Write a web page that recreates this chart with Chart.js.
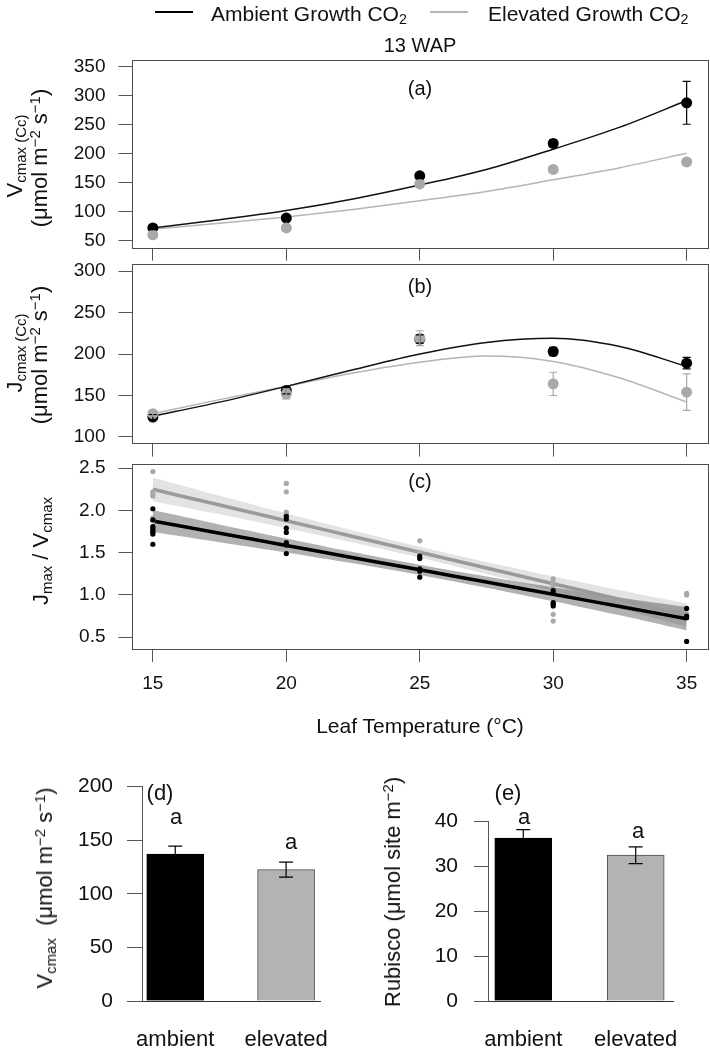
<!DOCTYPE html>
<html><head><meta charset="utf-8">
<script src="https://cdn.jsdelivr.net/npm/chart.js@4.4.1/dist/chart.umd.min.js"></script>
<style>
body{margin:0;background:#fff;}
#wrap{position:relative;width:710px;height:1051px;overflow:hidden;font-family:"Liberation Sans",Arial,sans-serif;color:#111;background:#fff;}
canvas{position:absolute;}
.t{position:absolute;white-space:nowrap;line-height:1;transform:translate(-50%,-50%);}
.l{position:absolute;white-space:nowrap;line-height:1;transform:translateY(-50%);}
.t.r{transform:translate(-50%,-50%) rotate(-90deg);}
sub,sup{font-size:68%;line-height:0;}
sub{vertical-align:-0.28em;} sup{vertical-align:0.5em;}
.lg{position:absolute;height:2px;}
</style></head>
<body><div id="wrap">
<canvas id="cA" width="710" height="272" style="left:0;top:0"></canvas>
<canvas id="cB" width="710" height="228" style="left:0;top:240px"></canvas>
<canvas id="cC" width="710" height="280" style="left:0;top:440px"></canvas>
<canvas id="cD" width="360" height="291" style="left:0;top:760px"></canvas>
<canvas id="cE" width="350" height="291" style="left:360px;top:760px"></canvas>

<div class="lg" style="left:155px;top:11px;width:38px;background:#000"></div>
<div class="l" style="left:211px;top:13px;font-size:21px">Ambient Growth CO<sub>2</sub></div>
<div class="lg" style="left:430px;top:11px;width:38px;background:#b5b5b5"></div>
<div class="l" style="left:488px;top:13px;font-size:21px">Elevated Growth CO<sub>2</sub></div>
<div class="t" style="left:420px;top:45px;font-size:20px">13 WAP</div>

<div class="t" style="left:420px;top:88px;font-size:20px">(a)</div>
<div class="t" style="left:420px;top:286px;font-size:20px">(b)</div>
<div class="t" style="left:420px;top:481px;font-size:20px">(c)</div>

<div class="t r" style="left:15px;top:156px;font-size:22px">V<sub>cmax (Cc)</sub></div>
<div class="t r" style="left:40px;top:158px;font-size:22px">(μmol m<sup>−2</sup> s<sup>−1</sup>)</div>
<div class="t r" style="left:15px;top:353px;font-size:22px">J<sub>cmax (Cc)</sub></div>
<div class="t r" style="left:40px;top:355px;font-size:22px">(μmol m<sup>−2</sup> s<sup>−1</sup>)</div>
<div class="t r" style="left:41px;top:551px;font-size:22px">J<sub>max</sub> / V<sub>cmax</sub></div>
<div class="t" style="left:420px;top:725px;font-size:21px">Leaf Temperature (°C)</div>

<div class="t r" style="left:45px;top:888px;font-size:22px">V<sub>cmax</sub>&nbsp; (μmol m<sup>−2</sup> s<sup>−1</sup>)</div>
<div class="t r" style="left:393px;top:892px;font-size:22px">Rubisco (μmol site m<sup>−2</sup>)</div>
<div class="t" style="left:160px;top:793px;font-size:22px">(d)</div>
<div class="t" style="left:508px;top:793px;font-size:22px">(e)</div>
<div class="t" style="left:176px;top:817px;font-size:22px">a</div>
<div class="t" style="left:291px;top:842px;font-size:22px">a</div>
<div class="t" style="left:524px;top:817px;font-size:22px">a</div>
<div class="t" style="left:638px;top:831px;font-size:22px">a</div>
</div>
<script>
// ---------- data ----------
const temps = [15, 20, 25, 30, 35];
const fitTemps = [15, 17.5, 20, 22.5, 25, 27.5, 30, 32.5, 35];
const xTicks = [15, 20, 25, 30, 35];
const xTickLabels = ["15", "20", "25", "30", "35"];

// (a) Vcmax
const aTicks = [50, 100, 150, 200, 250, 300, 350];
const aTickLabels = ["50", "100", "150", "200", "250", "300", "350"];
const aAmbientMean = [72, 89, 162, 218, 288];
const aAmbientSE = [3, 4, 5, 6, 37];
const aElevatedMean = [60, 72, 148, 173, 186];
const aElevatedSE = [3, 3, 4, 4, 5];
const aAmbientFit = [72, 86, 102, 122, 146, 173, 208, 246, 292];
const aElevatedFit = [70, 80, 91, 104, 119, 135, 155, 176, 201];

// (b) Jmax
const bTicks = [100, 150, 200, 250, 300];
const bTickLabels = ["100", "150", "200", "250", "300"];
const bAmbientMean = [124, 156, 218, 203, 189];
const bAmbientSE = [3, 4, 5, 5, 7];
const bElevatedMean = [128, 152, 219, 164, 154];
const bElevatedSE = [3, 6, 9, 14, 22];
const bAmbientFit = [125, 142, 161, 181, 200, 214, 219, 209, 185];
const bElevatedFit = [128, 145, 161, 177, 190, 197.5, 191, 171, 142];

// (c) Jmax/Vcmax
const cTicks = [0.5, 1.0, 1.5, 2.0, 2.5];
const cTickLabels = ["0.5", "1.0", "1.5", "2.0", "2.5"];
const cAmbientTemp = [15,15,15,15,15,15,15,15, 20,20,20,20,20,20,20, 25,25,25,25,25, 30,30,30,30,30, 35,35,35,35];
const cAmbientRatio = [2.02,1.89,1.81,1.79,1.76,1.74,1.72,1.60, 1.93,1.90,1.79,1.74,1.62,1.59,1.49, 1.46,1.43,1.31,1.28,1.21, 1.05,1.02,0.91,0.89,0.87, 0.84,0.75,0.73,0.45];
const cElevatedTemp = [15,15,15,15,15,15, 20,20,20,20,20, 25,25,25, 30,30,30,30,30, 35,35,35];
const cElevatedRatio = [2.46,2.22,2.20,2.17,1.91,1.88, 2.32,2.22,1.98,1.96,1.94, 1.64,1.50,1.44, 1.19,1.14,1.11,0.77,0.69, 1.02,1.00,0.78];
const cAmbientFit = [1.875, 1.73, 1.586, 1.441, 1.297, 1.152, 1.008, 0.863, 0.719];
const cAmbientUpper = [2.005, 1.835, 1.669, 1.508, 1.357, 1.219, 1.091, 0.968, 0.859];
const cAmbientLower = [1.745, 1.625, 1.503, 1.374, 1.237, 1.085, 0.925, 0.758, 0.579];
const cElevatedFit = [2.25, 2.064, 1.878, 1.691, 1.505, 1.319, 1.133, 0.946, 0.76];
const cElevatedUpper = [2.39, 2.174, 1.966, 1.762, 1.569, 1.39, 1.221, 1.056, 0.90];
const cElevatedLower = [2.11, 1.954, 1.79, 1.62, 1.441, 1.248, 1.045, 0.836, 0.62];

// (d) Vcmax bars, (e) Rubisco bars
const barGroups = ["ambient", "elevated"];
const barPositions = [1, 2];
const dTicks = [0, 50, 100, 150, 200];
const dTickLabels = ["0", "50", "100", "150", "200"];
const dMeans = [137, 122.5];
const dSE = [7.5, 7];
const eTicks = [0, 10, 20, 30, 40];
const eTickLabels = ["0", "10", "20", "30", "40"];
const eMeans = [36.2, 32.4];
const eSE = [1.9, 1.85];

// ---------- helpers ----------
const pts = (xs, ys) => xs.map((x, i) => ({x: x, y: ys[i]}));
Chart.defaults.font.family = '"Liberation Sans", Arial, sans-serif';
Chart.defaults.color = '#111';

const boxPlugin = {
  id: 'box',
  afterDraw(chart) {
    const a = chart.chartArea, ctx = chart.ctx;
    ctx.save();
    ctx.strokeStyle = '#4d4d4d'; ctx.lineWidth = 1;
    ctx.strokeRect(Math.round(a.left) + 0.5, Math.round(a.top) + 0.5, Math.round(a.right - a.left) - 1, Math.round(a.bottom - a.top));
    ctx.restore();
  }
};
const errorBarPlugin = {
  id: 'errorBars',
  afterDatasetsDraw(chart) {
    const ctx = chart.ctx, xs = chart.scales.x, ys = chart.scales.y;
    chart.data.datasets.forEach(ds => {
      if (!ds.errors) return;
      ds.data.forEach((p, j) => {
        const e = ds.errors[j];
        if (!e) return;
        const px = xs.getPixelForValue(p.x);
        const y1 = ys.getPixelForValue(p.y + e), y2 = ys.getPixelForValue(p.y - e);
        const c = ds.errorCap;
        ctx.save();
        ctx.strokeStyle = ds.errorColor; ctx.lineWidth = 1.2;
        ctx.beginPath();
        ctx.moveTo(px, y1); ctx.lineTo(px, y2);
        ctx.moveTo(px - c, y1); ctx.lineTo(px + c, y1);
        ctx.moveTo(px - c, y2); ctx.lineTo(px + c, y2);
        ctx.stroke();
        ctx.restore();
      });
    });
  }
};

function lineDs(xs, ys, color, width, order, extra) {
  return Object.assign({data: pts(xs, ys), borderColor: color, borderWidth: width, pointRadius: 0,
    showLine: true, fill: false, cubicInterpolationMode: 'monotone', order: order}, extra || {});
}
function pointDs(xs, ys, color, r, order, errs) {
  return {data: pts(xs, ys), showLine: false, pointRadius: r, pointBorderWidth: 0,
    pointBackgroundColor: color, backgroundColor: color, borderColor: color, order: order,
    errors: errs, errorColor: color, errorCap: 4};
}

function topPanel(id, cfg) {
  return new Chart(document.getElementById(id), {
    type: 'line',
    data: {datasets: cfg.datasets},
    options: {
      responsive: false, animation: false, devicePixelRatio: 1,
      layout: {padding: {top: cfg.padTop, left: 0, right: 2, bottom: 0}, autoPadding: false},
      plugins: {legend: {display: false}, tooltip: {enabled: false}},
      scales: {
        x: {type: 'linear', min: 14.2, max: 35.8,
          afterBuildTicks: s => { s.ticks = xTicks.map(v => ({value: v})); },
          afterFit: s => { s.height = cfg.xHeight; },
          border: {display: false},
          grid: {drawOnChartArea: false, drawTicks: true, tickLength: 13, color: '#555'},
          ticks: {display: cfg.showX, padding: 10, font: {size: 19}, maxRotation: 0,
            callback: (v, i) => xTickLabels[i]}
        },
        y: {type: 'linear', min: cfg.yMin, max: cfg.yMax,
          afterBuildTicks: s => { s.ticks = cfg.yTicks.map(v => ({value: v})); },
          afterFit: s => { s.width = 131.5; },
          border: {display: false},
          grid: {drawOnChartArea: false, drawTicks: true, tickLength: 13, color: '#555'},
          ticks: {padding: 13, font: {size: 19}, callback: (v, i) => cfg.yLabels[i]}
        }
      }
    },
    plugins: [boxPlugin, errorBarPlugin]
  });
}

topPanel('cA', {padTop: 60, xHeight: 15, showX: false, yMin: 38, yMax: 362, yTicks: aTicks, yLabels: aTickLabels,
  datasets: [
    lineDs(fitTemps, aElevatedFit, '#b5b5b5', 1.5, 6),
    lineDs(fitTemps, aAmbientFit, '#111', 1.5, 5),
    pointDs(temps, aAmbientMean, '#000', 5.5, 2, aAmbientSE),
    pointDs(temps, aElevatedMean, '#a9a9a9', 5.5, 1, aElevatedSE)
  ]});

topPanel('cB', {padTop: 17, xHeight: 15, showX: false, yMin: 92, yMax: 308, yTicks: bTicks, yLabels: bTickLabels,
  datasets: [
    lineDs(fitTemps, bElevatedFit, '#b5b5b5', 1.5, 6),
    lineDs(fitTemps, bAmbientFit, '#111', 1.5, 5),
    pointDs(temps, bAmbientMean, '#000', 5.5, 2, bAmbientSE),
    pointDs(temps, bElevatedMean, '#a9a9a9', 5.5, 1, bElevatedSE)
  ]});

topPanel('cC', {padTop: 13, xHeight: 71, showX: true, yMin: 0.36, yMax: 2.545, yTicks: cTicks, yLabels: cTickLabels,
  datasets: [
    lineDs(fitTemps, cElevatedUpper, 'rgba(0,0,0,0)', 0, 12, {fill: '+1', backgroundColor: 'rgba(0,0,0,0.11)', cubicInterpolationMode: 'default', tension: 0.3}),
    lineDs(fitTemps, cElevatedLower, 'rgba(0,0,0,0)', 0, 12, {cubicInterpolationMode: 'default', tension: 0.3}),
    lineDs(fitTemps, cAmbientUpper, 'rgba(0,0,0,0)', 0, 11, {fill: '+1', backgroundColor: 'rgba(0,0,0,0.3)', cubicInterpolationMode: 'default', tension: 0.3}),
    lineDs(fitTemps, cAmbientLower, 'rgba(0,0,0,0)', 0, 11, {cubicInterpolationMode: 'default', tension: 0.3}),
    lineDs(fitTemps, cElevatedFit, '#9a9a9a', 3.5, 6),
    lineDs(fitTemps, cAmbientFit, '#000', 3.5, 5),
    pointDs(cElevatedTemp, cElevatedRatio, '#a9a9a9', 2.6, 3),
    pointDs(cAmbientTemp, cAmbientRatio, '#000', 2.6, 2)
  ]});

function barPanel(id, cfg) {
  return new Chart(document.getElementById(id), {
    type: 'bar',
    data: {datasets: [{
      data: pts(barPositions, cfg.means),
      backgroundColor: ['#000000', '#b3b3b3'],
      borderColor: ['#000000', '#4d4d4d'],
      borderWidth: 1, barThickness: 57,
      errors: cfg.se, errorColor: '#000', errorCap: 7
    }]},
    options: {
      responsive: false, animation: false, devicePixelRatio: 1,
      layout: {padding: {top: cfg.padTop, left: 0, right: 33, bottom: 0}, autoPadding: false},
      plugins: {legend: {display: false}, tooltip: {enabled: false}},
      scales: {
        x: {type: 'linear', min: cfg.xMin, max: cfg.xMax, offset: false,
          afterBuildTicks: s => { s.ticks = barPositions.map(v => ({value: v})); },
          afterFit: s => { s.height = 50; },
          border: {display: true, color: '#333', width: 1},
          grid: {display: false, drawTicks: false},
          ticks: {padding: 26, font: {size: 22}, maxRotation: 0, callback: (v, i) => barGroups[i]}
        },
        y: {type: 'linear', min: cfg.yMin, max: cfg.yMax,
          afterBuildTicks: s => { s.ticks = cfg.yTicks.map(v => ({value: v})); },
          afterFit: s => { s.width = cfg.yWidth; },
          border: {display: true, color: '#555', width: 1},
          grid: {drawOnChartArea: false, drawTicks: true, tickLength: cfg.tickLen, color: '#555'},
          ticks: {padding: cfg.tickPad, font: {size: 21}, callback: (v, i) => cfg.yLabels[i]}
        }
      }
    },
    plugins: [errorBarPlugin]
  });
}

barPanel('cD', {padTop: 15, yWidth: 142, xMin: 0.7, xMax: 2.309, yMin: 0, yMax: 200, yTicks: dTicks, yLabels: dTickLabels,
  means: dMeans, se: dSE, tickLen: 15, tickPad: 14});
barPanel('cE', {padTop: 61, yWidth: 128, xMin: 0.686, xMax: 2.336, yMin: 0, yMax: 40, yTicks: eTicks, yLabels: eTickLabels,
  means: eMeans, se: eSE, tickLen: 14, tickPad: 16});
</script>
</body></html>
